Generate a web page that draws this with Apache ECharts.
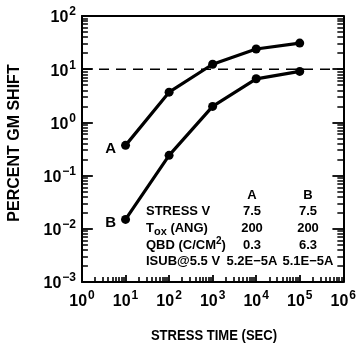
<!DOCTYPE html>
<html>
<head>
<meta charset="utf-8">
<script src="https://cdn.jsdelivr.net/npm/echarts@6/dist/echarts.min.js"></script>
<style>
  html, body { margin: 0; padding: 0; background: #fff; }
  #chart { width: 359px; height: 346px; }
</style>
</head>
<body>
<div id="chart"></div>
<script>
// Stress time (s) and Gm shift (%) for the two devices
const stressTime = [10, 100, 1000, 10000, 100000];
const gmShiftA = [0.37, 3.7, 12.4, 24, 31];
const gmShiftB = [0.015, 0.24, 2.0, 6.6, 9.1];
const limitLevel = 10;

// Axis ranges (decades)
const xDecades = [0, 1, 2, 3, 4, 5, 6];
const yDecades = [-3, -2, -1, 0, 1, 2];
const minorMultipliers = [2, 3, 4, 5, 6, 7, 8, 9];

// Parameter table
const tableHeads = ['A', 'B'];
const tableRowNames = ['STRESS V', 'T{sub|ox} (ANG)', 'QBD (C/CM{sup|2})', 'ISUB@5.5 V'];
const tableValuesA = ['7.5', '200', '0.3', '5.2E\u22125A'];
const tableValuesB = ['7.5', '200', '6.3', '5.1E\u22125A'];

const xTitle = 'STRESS TIME (SEC)';
const yTitle = 'PERCENT GM SHIFT';

const FONT = '"Liberation Sans", Arial, sans-serif';
const INK = '#000';

const GRID = { left: 82, right: 12, top: 16, bottom: 64 };
const W = 359, H = 346;

const xMin = Math.pow(10, xDecades[0]), xMax = Math.pow(10, xDecades[xDecades.length - 1]);
const yMin = Math.pow(10, yDecades[0]), yMax = Math.pow(10, yDecades[yDecades.length - 1]);

// pixels per decade, used to turn a tick length in px into a log-space step
const pxPerDecX = (W - GRID.left - GRID.right) / (xDecades.length - 1);
const pxPerDecY = (H - GRID.top - GRID.bottom) / (yDecades.length - 1);

function powLabel(v) {
  const e = Math.round(Math.log10(v));
  return '{b|10}{s|' + (e < 0 ? '\u2212' + (-e) : e) + '}';
}
const powRich = {
  b: { fontFamily: FONT, fontSize: 16, fontWeight: 'bold', color: INK, verticalAlign: 'bottom', lineHeight: 20 },
  s: { fontFamily: FONT, fontSize: 12, fontWeight: 'bold', color: INK, verticalAlign: 'bottom', padding: [0, 0, 8, 1], lineHeight: 20 }
};

function minorValues(decades) {
  const out = [];
  for (let i = 0; i < decades.length - 1; i++) {
    minorMultipliers.forEach(m => out.push(m * Math.pow(10, decades[i])));
  }
  return out;
}
const majorX = xDecades.map(d => Math.pow(10, d));
const majorY = yDecades.map(d => Math.pow(10, d));

// Tick segments, expressed in data space so the axes place them
function bottomTicks(values, lenPx) {
  const top = yMin * Math.pow(10, lenPx / pxPerDecY);
  return values.map(v => ({ coords: [[v, yMin], [v, top]] }));
}
function sideTicks(values, lenPx, atRight) {
  const f = Math.pow(10, lenPx / pxPerDecX);
  return values.map(v => atRight
    ? { coords: [[xMax, v], [xMax / f, v]] }
    : { coords: [[xMin, v], [xMin * f, v]] });
}
function tickSeries(name, data, width) {
  return {
    name: name, type: 'lines', coordinateSystem: 'cartesian2d', polyline: false,
    silent: true, z: 4, data: data,
    lineStyle: { color: INK, width: width, opacity: 1, curveness: 0 },
    effect: { show: false }
  };
}

const chart = echarts.init(document.getElementById('chart'), null, { renderer: 'canvas' });

const tableGraphics = [];
const rowY = [211, 228, 245, 261];
const colX = [252, 308];
const tableFont = { fontFamily: FONT, fontSize: 13, fontWeight: 'bold', fill: INK };
const tableRich = {
  sub: { fontFamily: FONT, fontSize: 11, fontWeight: 'bold', padding: [8, 0, 0, 0] },
  sup: { fontFamily: FONT, fontSize: 10, fontWeight: 'bold', padding: [0, 0, 8, 0] }
};
tableHeads.forEach((h, i) => {
  tableGraphics.push({ type: 'text', x: colX[i], y: 195,
    style: Object.assign({ text: h, align: 'center', verticalAlign: 'middle' }, tableFont) });
});
tableRowNames.forEach((t, r) => {
  tableGraphics.push({ type: 'text', x: 146, y: rowY[r],
    style: Object.assign({ text: t, rich: tableRich, align: 'left', verticalAlign: 'middle' }, tableFont) });
  tableGraphics.push({ type: 'text', x: colX[0], y: rowY[r],
    style: Object.assign({ text: tableValuesA[r], align: 'center', verticalAlign: 'middle' }, tableFont) });
  tableGraphics.push({ type: 'text', x: colX[1], y: rowY[r],
    style: Object.assign({ text: tableValuesB[r], align: 'center', verticalAlign: 'middle' }, tableFont) });
});

const titleGraphics = [{
  type: 'text', x: 15, y: 143, rotation: Math.PI / 2,
  style: { text: yTitle, fontFamily: FONT, fontSize: 16, fontWeight: 'bold', fill: INK, align: 'center', verticalAlign: 'middle' }
}, {
  type: 'text', x: 214, y: 336, scaleX: 0.87,
  style: { text: xTitle, fontFamily: FONT, fontSize: 15, fontWeight: 'bold', fill: INK, align: 'center', verticalAlign: 'middle' }
}];

function frameAxis(extra) {
  return Object.assign({
    type: 'log', logBase: 10,
    axisLine: { show: true, onZero: false, lineStyle: { color: INK, width: 2 } },
    axisTick: { show: false },
    minorTick: { show: false },
    splitLine: { show: false },
    minorSplitLine: { show: false }
  }, extra);
}

const option = {
  backgroundColor: '#fff',
  animation: false,
  grid: Object.assign({ show: false }, GRID),
  xAxis: [
    frameAxis({ min: xMin, max: xMax, splitNumber: 6, position: 'bottom',
      axisLabel: { formatter: powLabel, rich: powRich, margin: 8 } }),
    frameAxis({ min: xMin, max: xMax, splitNumber: 6, position: 'top', axisLabel: { show: false } })
  ],
  yAxis: [
    frameAxis({ min: yMin, max: yMax, splitNumber: 5, position: 'left',
      axisLabel: { formatter: powLabel, rich: powRich, margin: 6 } }),
    frameAxis({ min: yMin, max: yMax, splitNumber: 5, position: 'right', axisLabel: { show: false } })
  ],
  graphic: titleGraphics.concat(tableGraphics),
  series: [
    tickSeries('x minor ticks', bottomTicks(minorValues(xDecades), 5), 1.6),
    tickSeries('x major ticks', bottomTicks(majorX, 7), 1.8),
    tickSeries('y minor ticks left', sideTicks(minorValues(yDecades), 6, false), 1.6),
    tickSeries('y major ticks left', sideTicks(majorY, 11, false), 1.8),
    tickSeries('y minor ticks right', sideTicks(minorValues(yDecades), 6, true), 1.6),
    tickSeries('y major ticks right', sideTicks(majorY, 11, true), 1.8),
    {
      name: 'limit', type: 'line', symbol: 'none', silent: true,
      data: [[xMin, limitLevel], [xMax, limitLevel]],
      lineStyle: { color: INK, width: 1.4, type: [10, 7] }
    },
    {
      name: 'A', type: 'line', symbol: 'circle', symbolSize: 9,
      data: stressTime.map((t, i) => [t, gmShiftA[i]]),
      lineStyle: { color: INK, width: 3.2 }, itemStyle: { color: INK },
      label: { show: true, position: 'left', distance: 5, offset: [0, 3],
        formatter: p => (p.dataIndex === 0 ? 'A' : ''),
        fontFamily: FONT, fontSize: 15, fontWeight: 'bold', color: INK }
    },
    {
      name: 'B', type: 'line', symbol: 'circle', symbolSize: 9,
      data: stressTime.map((t, i) => [t, gmShiftB[i]]),
      lineStyle: { color: INK, width: 3.2 }, itemStyle: { color: INK },
      label: { show: true, position: 'left', distance: 5, offset: [0, 3],
        formatter: p => (p.dataIndex === 0 ? 'B' : ''),
        fontFamily: FONT, fontSize: 15, fontWeight: 'bold', color: INK }
    }
  ]
};
chart.setOption(option);
</script>
</body>
</html>
